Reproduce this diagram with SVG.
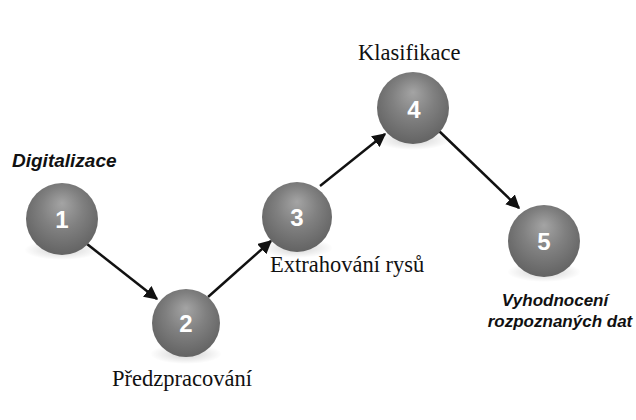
<svg xmlns="http://www.w3.org/2000/svg" width="636" height="420" viewBox="0 0 636 420">
<defs>
<radialGradient id="ball" cx="50%" cy="42%" r="58%" fx="50%" fy="28%">
<stop offset="0" stop-color="#a4a4a4"/>
<stop offset="0.5" stop-color="#808080"/>
<stop offset="1" stop-color="#636363"/>
</radialGradient>
<radialGradient id="shadow" cx="50%" cy="50%" r="50%">
<stop offset="0" stop-color="#000" stop-opacity="0.18"/>
<stop offset="1" stop-color="#000" stop-opacity="0"/>
</radialGradient>
<marker id="ah" viewBox="0 0 10 10" refX="9" refY="5" markerWidth="5.5" markerHeight="5.5" orient="auto" markerUnits="strokeWidth">
<path d="M0,0 L10,5 L0,10 z" fill="#111"/>
</marker>
</defs>
<style>
.b{fill:url(#ball)}
.sh{fill:url(#shadow)}
.n{font-family:"Liberation Sans",Arial,sans-serif;font-weight:bold;font-size:24px;fill:#fff;text-anchor:middle}
.s{font-family:"Liberation Serif","Times New Roman",serif;font-size:22.5px;fill:#111}
.i{font-family:"Liberation Sans",Arial,sans-serif;font-weight:bold;font-style:italic;font-size:17px;fill:#111}
.c{stroke:#111;stroke-width:2.5;fill:none;marker-end:url(#ah)}
</style>
<rect width="636" height="420" fill="#fff"/>
<g id="connectors">
<line class="c" x1="87" y1="244" x2="157" y2="299"/>
<line class="c" x1="208" y1="297" x2="271" y2="241"/>
<line class="c" x1="320" y1="186" x2="385" y2="134"/>
<line class="c" x1="438" y1="130" x2="519" y2="208"/>
</g>
<g id="n1">
<ellipse class="sh" cx="62" cy="250" rx="38" ry="10"/>
<circle class="b" cx="62" cy="219" r="36"/>
<text class="n" x="62" y="228">1</text>
<text class="i" x="12" y="167" style="font-size:19px">Digitalizace</text>
</g>
<g id="n2">
<ellipse class="sh" cx="186" cy="354" rx="36" ry="10"/>
<circle class="b" cx="186" cy="323" r="34"/>
<text class="n" x="186" y="332">2</text>
<text class="s" x="112" y="386">Předzpracování</text>
</g>
<g id="n3">
<ellipse class="sh" cx="297" cy="248" rx="36" ry="10"/>
<circle class="b" cx="297" cy="217" r="35"/>
<text class="n" x="297" y="226">3</text>
<text class="s" x="270" y="272">Extrahování rysů</text>
</g>
<g id="n4">
<ellipse class="sh" cx="413" cy="140" rx="37" ry="10"/>
<circle class="b" cx="413" cy="108" r="36"/>
<text class="n" x="414" y="118">4</text>
<text class="s" x="358" y="60">Klasifikace</text>
</g>
<g id="n5">
<ellipse class="sh" cx="544" cy="272" rx="37" ry="10"/>
<circle class="b" cx="544" cy="241" r="36"/>
<text class="n" x="544" y="250">5</text>
<text class="i" x="555" y="306" text-anchor="middle">Vyhodnocení</text>
<text class="i" x="560" y="327" text-anchor="middle">rozpoznaných dat</text>
</g>
</svg>
